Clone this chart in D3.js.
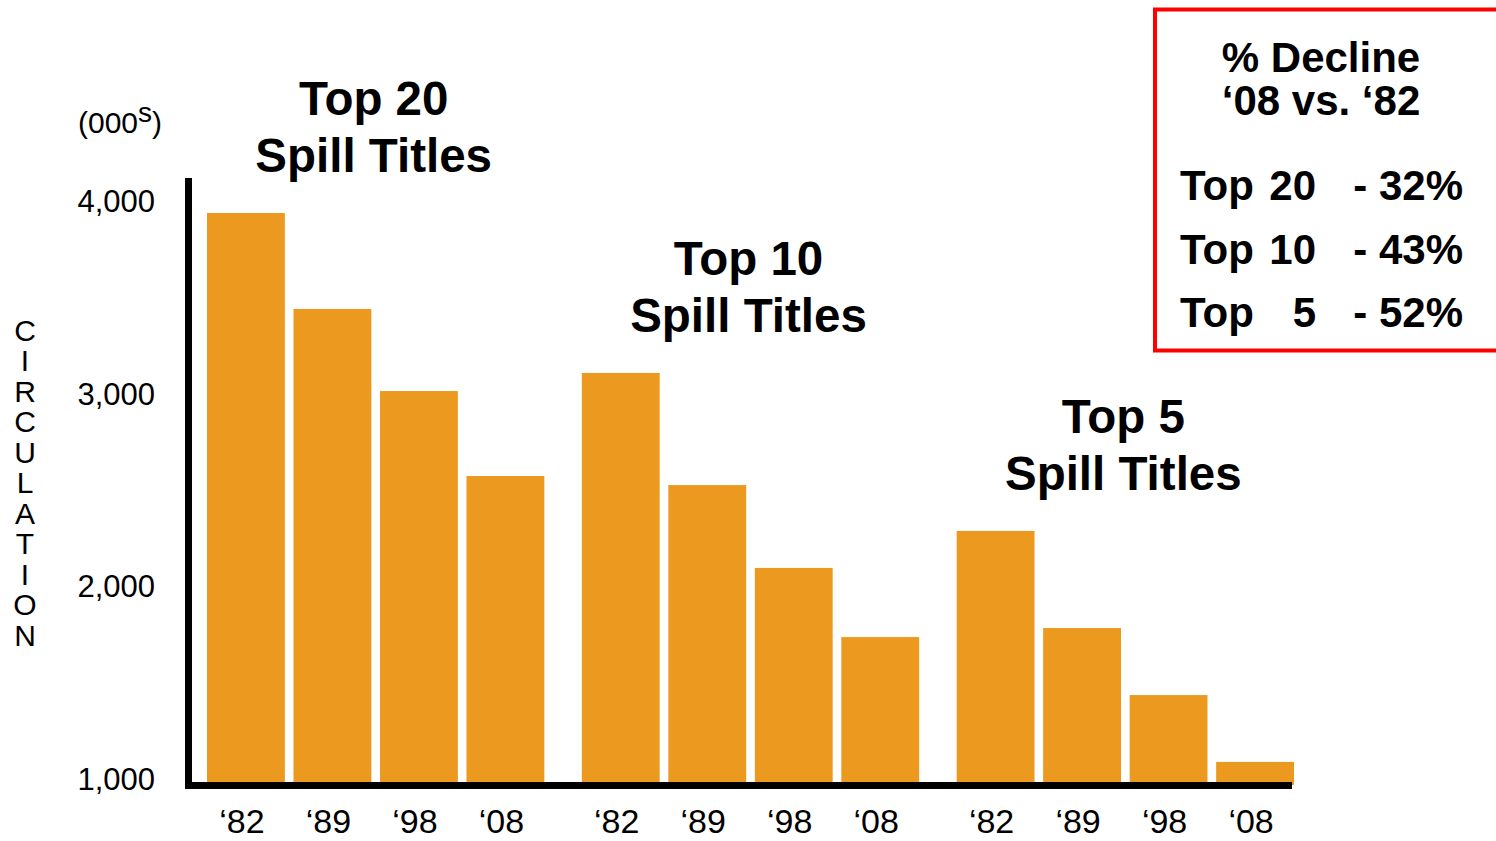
<!DOCTYPE html>
<html>
<head>
<meta charset="utf-8">
<script src="https://cdn.jsdelivr.net/npm/d3@7"></script>
<style>
  body { margin: 0; background: #fff; }
  svg { display: block; }
  text { font-family: "Liberation Sans", Arial, sans-serif; fill: #000; }
  .tick_labels { font-size: 31px; }
  .year_labels { font-size: 34px; }
  .titles { font-size: 47.5px; font-weight: bold; }
  .box_text { font-size: 42px; font-weight: bold; }
</style>
</head>
<body>
<svg id="svg-spill" width="1496" height="841"></svg>
<script>
var groups = ["Top 20", "Top 10", "Top 5"];
var years = ["\u201882", "\u201889", "\u201898", "\u201808"];
var top20 = [3948, 3450, 3024, 2583];
var top10 = [3118, 2536, 2106, 1747];
var top5 = [2298, 1794, 1446, 1099];
var yTicks = [1000, 2000, 3000, 4000];
var declineGroups = ["20", "10", "5"];
var declineValues = ["- 32%", "- 43%", "- 52%"];

var orange = "#ec991f";
var svg = d3.select("#svg-spill");

var series = [top20, top10, top5];
var dataset = [];
groups.forEach(function(g, gi) {
  years.forEach(function(yr, yi) {
    dataset.push({group: g, year: yr, value: series[gi][yi]});
  });
});

var x0 = d3.scaleBand()
    .domain(groups)
    .range([207, 1294])
    .paddingInner(0.1)
    .paddingOuter(0);
var x1 = d3.scaleBand()
    .domain(years)
    .range([0, x0.bandwidth()])
    .paddingInner(0.1)
    .paddingOuter(0);
var yScale = d3.scaleLinear()
    .domain([1000, 4000])
    .range([781, 203]);
var base = 785;

// bars
svg.selectAll("bars")
    .data(dataset)
    .enter()
    .append("rect")
    .attr("x", function(d) { return x0(d.group) + x1(d.year); })
    .attr("y", function(d) { return yScale(d.value); })
    .attr("width", x1.bandwidth())
    .attr("height", function(d) { return base - yScale(d.value); })
    .style("fill", orange);

// axes lines
svg.append("line")
    .attr("x1", 188.5).attr("x2", 188.5)
    .attr("y1", 178).attr("y2", 789)
    .style("stroke", "#000").style("stroke-width", 7);
svg.append("line")
    .attr("x1", 185).attr("x2", 1292)
    .attr("y1", 785.5).attr("y2", 785.5)
    .style("stroke", "#000").style("stroke-width", 7);

// y tick labels
svg.selectAll("tick_labels")
    .data(yTicks)
    .enter()
    .append("text")
    .attr("class", "tick_labels")
    .attr("x", 155)
    .attr("y", function(d) { return yScale(d) - 2; })
    .attr("dy", "0.35em")
    .style("text-anchor", "end")
    .text(function(d) { return d3.format(",")(d); });

// (000s)
var unit = svg.append("text")
    .attr("x", 78)
    .attr("y", 133)
    .style("font-size", "30px");
unit.append("tspan").text("(000");
unit.append("tspan").attr("dy", -11).style("font-size", "28px").text("s");
unit.append("tspan").attr("dy", 11).text(")");

// vertical CIRCULATION
svg.selectAll("circ_letters")
    .data("CIRCULATION".split(""))
    .enter()
    .append("text")
    .attr("x", 25)
    .attr("y", function(d, i) { return 330 + i * 30.5; })
    .attr("dy", "0.35em")
    .style("font-size", "30px")
    .style("text-anchor", "middle")
    .text(function(d) { return d; });

// year labels
svg.selectAll("year_labels")
    .data(dataset)
    .enter()
    .append("text")
    .attr("class", "year_labels")
    .attr("x", function(d) { return x0(d.group) + x1(d.year) + x1.bandwidth() / 2 - 4; })
    .attr("y", 833)
    .style("text-anchor", "middle")
    .text(function(d) { return d.year; });

// group titles
groups.forEach(function(g, gi) {
  var top = yScale(d3.max(series[gi]));
  var cx = x0(g) + x0.bandwidth() / 2 - 2;
  var t = svg.append("text")
      .attr("class", "titles")
      .attr("y", top - 98)
      .style("text-anchor", "middle");
  t.append("tspan").attr("x", cx).text(g);
  t.append("tspan").attr("x", cx).attr("dy", 57).text("Spill Titles");
});

// decline box
svg.append("rect")
    .attr("x", 1155)
    .attr("y", 9.5)
    .attr("width", 360)
    .attr("height", 341)
    .style("fill", "none")
    .style("stroke", "#ff0000")
    .style("stroke-width", 4);
svg.append("text")
    .attr("class", "box_text")
    .attr("x", 1321).attr("y", 72)
    .style("text-anchor", "middle")
    .text("% Decline");
svg.append("text")
    .attr("class", "box_text")
    .attr("x", 1321).attr("y", 115)
    .style("text-anchor", "middle")
    .text("\u201808 vs. \u201882");
svg.selectAll("box_top")
    .data(declineGroups)
    .enter()
    .append("text")
    .attr("class", "box_text")
    .attr("x", 1180)
    .attr("y", function(d, i) { return 200 + i * 63.5; })
    .text("Top");
svg.selectAll("box_num")
    .data(declineGroups)
    .enter()
    .append("text")
    .attr("class", "box_text")
    .attr("x", 1316)
    .attr("y", function(d, i) { return 200 + i * 63.5; })
    .style("text-anchor", "end")
    .text(function(d) { return d; });
svg.selectAll("box_val")
    .data(declineValues)
    .enter()
    .append("text")
    .attr("class", "box_text")
    .attr("x", 1463)
    .attr("y", function(d, i) { return 200 + i * 63.5; })
    .style("text-anchor", "end")
    .text(function(d) { return d; });
</script>
</body>
</html>
